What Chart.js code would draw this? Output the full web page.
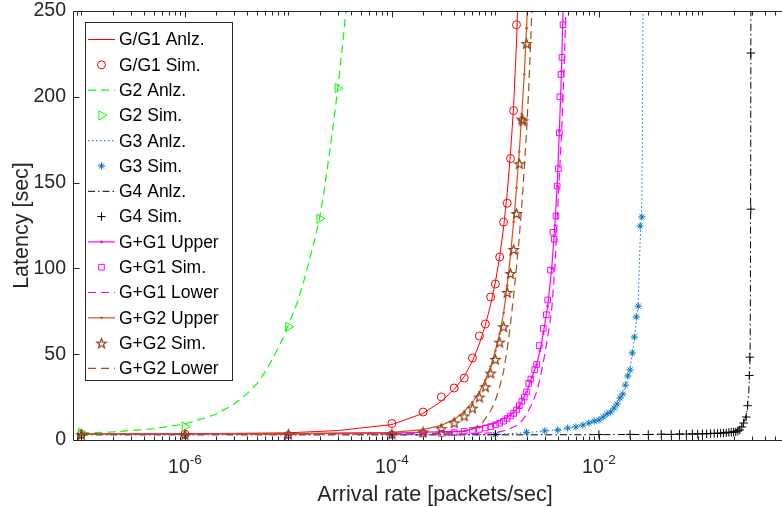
<!DOCTYPE html>
<html>
<head>
<meta charset="utf-8">
<script src="https://cdn.jsdelivr.net/npm/chart.js@4.4.1/dist/chart.umd.min.js"></script>
<style>
  html, body { margin: 0; padding: 0; background: #fff; overflow: hidden; }
  #wrap { width: 782px; height: 507px; overflow: hidden; }
</style>
</head>
<body>
<div id="wrap"><canvas id="chart" width="810" height="507"></canvas></div>
<script>
// axis ranges and ticks
const xMin = 8.3e-8;
const xMax = 0.82;
const yMin = 0;
const yMax = 250;
const yTickValues = [0, 50, 100, 150, 200, 250];
const xTickValues = [1e-6, 1e-4, 1e-2];
const xTickExponents = ["-6", "-4", "-2"];
const xTitle = "Arrival rate [packets/sec]";
const yTitle = "Latency [sec]";

// G/G1
const g1AnlzX = [1e-7, 1e-6, 1e-5, 3e-5, 1e-4, 2e-4, 3e-4, 4e-4, 5e-4, 6e-4, 7e-4, 8e-4, 9e-4, 1e-3, 1.1e-3, 1.2e-3, 1.3e-3, 1.4e-3, 1.5e-3, 1.6e-3, 1.7e-3];
const g1AnlzY = [3.5, 3.6, 4.2, 5.5, 9, 15.5, 22.5, 29.5, 37, 46, 56, 67, 79, 92, 107, 124, 144, 167, 195, 232, 280];
const g1SimX = [1e-7, 1e-6, 1e-4, 2e-4, 3e-4, 4e-4, 5e-4, 6e-4, 7e-4, 8e-4, 9e-4, 1e-3, 1.1e-3, 1.2e-3, 1.3e-3, 1.4e-3, 1.5e-3, 1.6e-3];
const g1SimY = [3.4, 3.5, 9.6, 16.3, 25.1, 30.3, 36.1, 47.8, 60.6, 67.6, 83.3, 90.9, 106.6, 127, 138, 164, 192, 242];

// G2
const g2AnlzX = [1e-7, 2e-7, 5e-7, 1e-6, 2e-6, 3e-6, 4e-6, 5e-6, 6e-6, 7e-6, 8e-6, 9e-6, 1e-5, 1.2e-5, 1.4e-5, 1.6e-5, 1.8e-5, 2e-5, 2.2e-5, 2.4e-5, 2.6e-5, 2.8e-5, 3e-5, 3.2e-5, 3.4e-5, 3.6e-5, 3.8e-5];
const g2AnlzY = [4.1, 4.7, 6.6, 9.3, 15, 21, 27, 33, 40, 47, 54, 60, 67, 79, 92, 105, 117, 129, 144, 160, 175, 190, 205, 220, 235, 250, 265];
const g2SimX = [1e-7, 1e-6, 1e-5, 2e-5, 3e-5];
const g2SimY = [4.3, 7.8, 66, 129, 205];

// G3
const g3AnlzX = [1e-4, 1e-3, 2e-3, 4e-3, 6e-3, 8e-3, 1e-2, 1.2e-2, 1.4e-2, 1.6e-2, 1.8e-2, 1.9e-2, 2e-2, 2.1e-2, 2.2e-2, 2.3e-2, 2.4e-2, 2.5e-2, 2.55e-2, 2.6e-2, 2.63e-2, 2.65e-2, 2.67e-2, 2.68e-2];
const g3AnlzY = [3, 3.2, 4.3, 6, 7.7, 9.8, 12, 15, 18.7, 23.8, 31, 36, 42, 50, 59, 70, 82, 115, 127, 140, 175, 215, 255, 280];
const g3SimX = [1e-3, 2e-3, 3e-3, 4e-3, 5e-3, 6e-3, 7e-3, 8e-3, 9e-3, 1e-2, 1.1e-2, 1.2e-2, 1.3e-2, 1.4e-2, 1.5e-2, 1.6e-2, 1.7e-2, 1.8e-2, 1.9e-2, 2e-2, 2.1e-2, 2.2e-2, 2.3e-2, 2.4e-2, 2.5e-2, 2.6e-2];
const g3SimY = [3.2, 4.5, 5.3, 5.8, 7, 7.6, 8.7, 9.9, 11, 11.7, 13.4, 15.2, 16.3, 18.6, 21, 24.5, 26.8, 32, 37.3, 40.8, 50.7, 60, 71.7, 78, 124.7, 130];

// G4
const g4AnlzX = [1e-7, 1e-3, 1e-2, 0.05, 0.1, 0.15, 0.2, 0.23, 0.25, 0.26, 0.27, 0.28, 0.285, 0.289, 0.291, 0.293, 0.294, 0.295];
const g4AnlzY = [3, 3, 3.1, 3.3, 3.6, 4.2, 5.2, 7, 9.5, 12.8, 17, 27, 38, 50, 90, 170, 250, 330];
const g4SimX = [1e-7, 1e-6, 1e-5, 1e-4, 1e-3, 0.01, 0.02, 0.03, 0.04, 0.05, 0.06, 0.07, 0.08, 0.09, 0.1, 0.11, 0.12, 0.13, 0.14, 0.15, 0.16, 0.17, 0.18, 0.19, 0.2, 0.21, 0.22, 0.23, 0.24, 0.25, 0.265, 0.273, 0.284, 0.287, 0.2932, 0.2938];
const g4SimY = [3, 3, 3, 3.2, 3.3, 3.2, 3.3, 3.2, 3.4, 3.3, 3.5, 3.4, 3.6, 3.5, 3.7, 3.6, 3.8, 3.9, 3.8, 4, 4.1, 4.2, 4.4, 4.5, 4.6, 4.7, 5.2, 5.8, 7.6, 9.9, 13.4, 20, 37.6, 48.3, 225.5, 134.5];

// G+G1
const gg1UpperX = [1e-7, 1e-6, 1e-5, 1e-4, 5e-4, 7e-4, 1e-3, 1.4e-3, 1.7e-3, 2e-3, 2.25e-3, 2.5e-3, 2.7e-3, 2.9e-3, 3.2e-3, 3.5e-3, 3.75e-3, 3.95e-3, 4.15e-3, 4.35e-3, 4.5e-3, 4.6e-3];
const gg1UpperY = [3.5, 3.5, 3.7, 4, 5.2, 7.5, 10, 14.6, 19.5, 28, 36.5, 44, 52, 62, 78, 100, 125, 148, 180, 215, 250, 268];
const gg1SimX = [1e-5, 1e-4, 2e-4, 3e-4, 4e-4, 5e-4, 6e-4, 7e-4, 8e-4, 9e-4, 1e-3, 1.1e-3, 1.2e-3, 1.3e-3, 1.4e-3, 1.5e-3, 1.6e-3, 1.7e-3, 1.8e-3, 1.9e-3, 2e-3, 2.1e-3, 2.2e-3, 2.4e-3, 2.5e-3, 2.65e-3, 2.9e-3, 3.1e-3, 3.2e-3, 3.4e-3, 3.6e-3, 3.7e-3, 3.85e-3, 3.95e-3, 4.05e-3, 4.15e-3, 4.2e-3, 4.3e-3, 4.4e-3, 4.5e-3];
const gg1SimY = [3, 3.2, 3.5, 3.8, 4.3, 5, 5.6, 6.2, 7, 7.8, 8.8, 9.8, 11, 12.5, 14, 15.5, 17.5, 20, 22.5, 25, 28, 33, 35.5, 41, 44, 55, 65, 73, 81.6, 99, 121, 117, 130.5, 148, 158, 179, 200, 213, 223, 242];
const gg1LowerX = [1e-7, 1e-4, 5e-4, 1e-3, 1.3e-3, 1.6e-3, 1.85e-3, 2e-3, 2.3e-3, 2.5e-3, 2.7e-3, 2.9e-3, 3.1e-3, 3.3e-3, 3.5e-3, 3.75e-3, 4e-3, 4.2e-3, 4.4e-3, 4.6e-3, 4.8e-3, 4.9e-3];
const gg1LowerY = [3.3, 3.4, 3.6, 4.2, 5.8, 8.5, 12, 15, 22, 28, 36, 45, 55, 65, 76, 100, 135, 160, 185, 215, 250, 270];

// G+G2
const gg2UpperX = [1e-7, 1e-6, 1e-5, 1e-4, 2e-4, 3e-4, 4e-4, 5e-4, 6e-4, 7e-4, 8e-4, 9e-4, 1e-3, 1.1e-3, 1.2e-3, 1.3e-3, 1.4e-3, 1.5e-3, 1.6e-3, 1.7e-3, 1.8e-3, 1.9e-3, 2e-3, 2.05e-3];
const gg2UpperY = [3.5, 3.5, 3.7, 4.5, 6, 8.5, 12, 16.5, 22, 28, 35, 43, 52, 62, 74, 90, 108, 127, 147, 168, 190, 213, 240, 256];
const gg2SimX = [1e-7, 1e-6, 1e-5, 1e-4, 2e-4, 3e-4, 4e-4, 5e-4, 6e-4, 7e-4, 8e-4, 9e-4, 1e-3, 1.1e-3, 1.2e-3, 1.3e-3, 1.4e-3, 1.5e-3, 1.6e-3, 1.7e-3, 1.8e-3, 1.85e-3, 2e-3];
const gg2SimY = [3.2, 3.2, 3.3, 3.5, 4.7, 6.6, 10, 14, 18.6, 25, 31, 39, 47, 57, 66, 86, 97, 111, 132, 161, 187, 186, 231];
const gg2LowerX = [1e-7, 1e-4, 3e-4, 5e-4, 6e-4, 7.5e-4, 9e-4, 1e-3, 1.1e-3, 1.2e-3, 1.3e-3, 1.4e-3, 1.5e-3, 1.6e-3, 1.7e-3, 1.8e-3, 1.9e-3, 2e-3, 2.1e-3, 2.2e-3, 2.26e-3, 2.3e-3];
const gg2LowerY = [3.3, 3.5, 4, 5, 6.5, 10, 17, 23, 31, 40, 53, 68, 84, 101, 118, 137, 158, 180, 205, 235, 255, 268];

const axisColor = "#262626";
const fontFamily = '"Liberation Sans", Arial, Helvetica, sans-serif';

function pts(xs, ys) {
    return xs.map((v, i) => ({ x: v, y: ys[i] }));
}

function lineSet(label, xs, ys, color, dash, extra = {}) {
    return {
        label,
        data: pts(xs, ys),
        showLine: true,
        borderColor: color,
        borderWidth: 1,
        borderDash: dash,
        pointRadius: 0,
        pointHoverRadius: 0,
        ...extra,
    };
}

function simSet(label, xs, ys, color, style, radius, extra = {}) {
    return {
        label,
        data: pts(xs, ys),
        showLine: false,
        borderColor: color,
        pointStyle: style,
        pointRadius: radius,
        pointHoverRadius: radius,
        pointBorderColor: color,
        pointBackgroundColor: "rgba(0,0,0,0)",
        pointBorderWidth: 1,
        ...extra,
    };
}

function dots(color) {
    return {
        pointRadius: 1.3,
        pointHoverRadius: 1.3,
        pointStyle: "circle",
        pointBackgroundColor: color,
        pointBorderColor: color,
        pointBorderWidth: 0,
    };
}

// small outlined five-pointed star used as a marker
function pentagram(color, r) {
    const c = document.createElement("canvas");
    const s = Math.ceil(r * 2 + 3);
    c.width = s;
    c.height = s;
    const g = c.getContext("2d");
    g.strokeStyle = color;
    g.lineWidth = 1.2;
    g.beginPath();
    for (let k = 0; k < 10; k++) {
        const rr = k % 2 ? r * 0.42 : r;
        const ang = -Math.PI / 2 + k * Math.PI / 5;
        const px = s / 2 + rr * Math.cos(ang);
        const py = s / 2 + rr * Math.sin(ang) + r * 0.1;
        if (k === 0) g.moveTo(px, py); else g.lineTo(px, py);
    }
    g.closePath();
    g.stroke();
    return c;
}

const red = "#FF0000";
const green = "#00FF00";
const blue = "#0072BD";
const black = "#000000";
const magenta = "#FF00FF";
const orange = "#D95319";
const brownSim = "#8C3C14";
const brownLow = "#A0501E";

const datasets = [
    lineSet("G/G1 Anlz.", g1AnlzX, g1AnlzY, red, []),
    simSet("G/G1 Sim.", g1SimX, g1SimY, red, "circle", 4),
    lineSet("G2 Anlz.", g2AnlzX, g2AnlzY, green, [8, 5], { borderWidth: 1.2 }),
    simSet("G2 Sim.", g2SimX, g2SimY, green, "triangle", 5.3, { pointRotation: 90 }),
    lineSet("G3 Anlz.", g3AnlzX, g3AnlzY, blue, [1.5, 2.5]),
    simSet("G3 Sim.", g3SimX, g3SimY, blue, "star", 3.6),
    lineSet("G4 Anlz.", g4AnlzX, g4AnlzY, black, [7, 3, 1.5, 3]),
    simSet("G4 Sim.", g4SimX, g4SimY, black, "cross", 4.2),
    lineSet("G+G1 Upper", gg1UpperX, gg1UpperY, magenta, [], { borderWidth: 1.2, ...dots(magenta) }),
    simSet("G+G1 Sim.", gg1SimX, gg1SimY, magenta, "rect", 4),
    lineSet("G+G1 Lower", gg1LowerX, gg1LowerY, magenta, [8, 5], { borderWidth: 1.2 }),
    lineSet("G+G2 Upper", gg2UpperX, gg2UpperY, orange, [], { borderWidth: 1.2, ...dots(orange) }),
    simSet("G+G2 Sim.", gg2SimX, gg2SimY, brownSim, pentagram(brownSim, 5), 5),
    lineSet("G+G2 Lower", gg2LowerX, gg2LowerY, brownLow, [8, 5], { borderWidth: 1.2 }),
];

// later series are painted on top, as in the original
datasets.forEach((ds, i) => { ds.order = datasets.length - i; });

function drawMarker(ctx, ds, x, y) {
    if (!ds.pointRadius) return;
    ctx.save();
    ctx.setLineDash([]);
    ctx.strokeStyle = ds.pointBorderColor || ds.borderColor;
    ctx.fillStyle = ds.pointBackgroundColor || "rgba(0,0,0,0)";
    ctx.lineWidth = ds.pointBorderWidth || 1;
    if (Chart.helpers && Chart.helpers.drawPoint) {
        Chart.helpers.drawPoint(ctx, {
            pointStyle: ds.pointStyle || "circle",
            radius: ds.pointRadius,
            rotation: ds.pointRotation || 0,
            borderWidth: ds.pointBorderWidth,
        }, x, y);
    } else {
        ctx.beginPath();
        ctx.arc(x, y, ds.pointRadius, 0, Math.PI * 2);
        ctx.stroke();
    }
    ctx.restore();
}

const axesFrame = {
    id: "axesFrame",
    afterDraw(chart) {
        const { ctx, chartArea: a, scales: { x, y } } = chart;
        const L = Math.round(a.left) + 0.5;
        const R = Math.round(a.right) - 0.5;
        const T = Math.round(a.top) + 0.5;
        const B = Math.round(a.bottom) + 0.5;

        ctx.save();
        ctx.strokeStyle = axisColor;
        ctx.lineWidth = 1;
        ctx.setLineDash([]);

        const seg = (x1, y1, x2, y2) => {
            ctx.beginPath();
            ctx.moveTo(x1, y1);
            ctx.lineTo(x2, y2);
            ctx.stroke();
        };

        seg(L, T, R, T);
        seg(L, B, R, B);
        seg(L, T, L, B);
        seg(R, T, R, B);

        // log ticks pointing inward, bottom and top
        for (let d = -8; d <= 0; d++) {
            for (let m = 1; m <= 9; m++) {
                const v = m * Math.pow(10, d);
                if (v < xMin || v > xMax) continue;
                const px = Math.round(x.getPixelForValue(v)) + 0.5;
                const major = xTickValues.some(t => Math.abs(t - v) / t < 1e-9);
                const len = major ? 6 : 4;
                seg(px, B, px, B - len);
                seg(px, T, px, T + len);
            }
        }

        yTickValues.forEach(v => {
            const py = Math.round(y.getPixelForValue(v)) + 0.5;
            seg(L, py, L + 6, py);
            seg(R, py, R - 6, py);
        });

        // tick labels
        ctx.fillStyle = axisColor;
        ctx.font = "19.5px " + fontFamily;
        ctx.textAlign = "right";
        ctx.textBaseline = "middle";
        yTickValues.forEach(v => {
            ctx.fillText(String(v), a.left - 7, y.getPixelForValue(v));
        });

        ctx.textAlign = "left";
        ctx.textBaseline = "alphabetic";
        xTickValues.forEach((v, i) => {
            const px = x.getPixelForValue(v);
            ctx.font = "19.5px " + fontFamily;
            const w1 = ctx.measureText("10").width;
            ctx.font = "13.5px " + fontFamily;
            const w2 = ctx.measureText(xTickExponents[i]).width;
            const start = px - (w1 + w2) / 2;
            ctx.font = "19.5px " + fontFamily;
            ctx.fillText("10", start, a.bottom + 33);
            ctx.font = "13.5px " + fontFamily;
            ctx.fillText(xTickExponents[i], start + w1, a.bottom + 24);
        });

        // axis titles
        ctx.font = "21.5px " + fontFamily;
        ctx.textAlign = "center";
        ctx.fillText(xTitle, (a.left + a.right) / 2, 501);
        ctx.save();
        ctx.translate(28, (a.top + a.bottom) / 2);
        ctx.rotate(-Math.PI / 2);
        ctx.fillText(yTitle, 0, 0);
        ctx.restore();

        // legend box
        const lx = 85.5, ly = 22.5, lw = 147, lh = 358;
        ctx.fillStyle = "#fff";
        ctx.fillRect(lx, ly, lw, lh);
        ctx.strokeStyle = axisColor;
        ctx.strokeRect(lx, ly, lw, lh);

        ctx.font = "17.5px " + fontFamily;
        ctx.textAlign = "left";
        ctx.textBaseline = "middle";
        chart.data.datasets.forEach((ds, i) => {
            const ry = 39.5 + i * 25.3;
            if (ds.showLine) {
                ctx.save();
                ctx.strokeStyle = ds.borderColor;
                ctx.lineWidth = ds.borderWidth;
                ctx.setLineDash(ds.borderDash || []);
                seg(88, ry, 115, ry);
                ctx.restore();
            }
            drawMarker(ctx, ds, 101.5, ry);
            ctx.fillStyle = "#000";
            ctx.fillText(ds.label, 119, ry + 1);
        });

        ctx.restore();
    }
};

new Chart(document.getElementById("chart"), {
    type: "scatter",
    data: { datasets },
    options: {
        responsive: false,
        animation: false,
        devicePixelRatio: 1,
        layout: { padding: { left: 73, top: 11, right: 13, bottom: 67 } },
        plugins: {
            legend: { display: false },
            tooltip: { enabled: false },
        },
        scales: {
            x: { type: "logarithmic", min: xMin, max: xMax, display: false },
            y: { type: "linear", min: yMin, max: yMax, display: false },
        },
        elements: { line: { tension: 0 } },
    },
    plugins: [axesFrame],
});
</script>
</body>
</html>
